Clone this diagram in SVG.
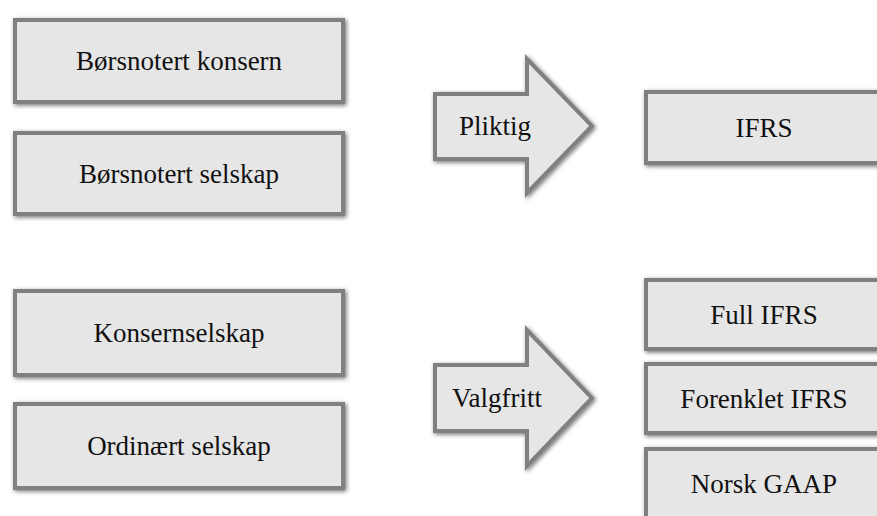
<svg xmlns="http://www.w3.org/2000/svg" width="877" height="516" viewBox="0 0 877 516">
<defs>
<filter id="sh" x="-10%" y="-20%" width="120%" height="140%">
<feDropShadow dx="1.5" dy="1.5" stdDeviation="2" flood-color="#000" flood-opacity="0.55"/>
</filter>
<style>
.box{fill:#e6e6e6;stroke:#808080;stroke-width:4;filter:url(#sh)}
text{font-family:'Liberation Serif','DejaVu Serif',serif;font-size:27px;fill:#111}
.t{text-anchor:middle}
</style>
</defs>
<rect width="877" height="516" fill="#fff"/>
<g id="n1"><rect class="box" x="15" y="20" width="328" height="82"/><text class="t" x="179" y="70" font-family="Liberation Serif, serif">Børsnotert konsern</text></g>
<g id="n2"><rect class="box" x="15" y="133" width="328" height="81"/><text class="t" x="179" y="183" font-family="Liberation Serif, serif">Børsnotert selskap</text></g>
<g id="n3"><rect class="box" x="15" y="291" width="328" height="84"/><text class="t" x="179" y="342" font-family="Liberation Serif, serif">Konsernselskap</text></g>
<g id="n4"><rect class="box" x="15" y="404" width="328" height="84"/><text class="t" x="179" y="455" font-family="Liberation Serif, serif">Ordinært selskap</text></g>
<g id="n5"><rect class="box" x="646" y="92" width="240" height="71"/><text class="t" x="764" y="137" font-family="Liberation Serif, serif">IFRS</text></g>
<g id="n6"><rect class="box" x="646" y="280" width="240" height="69"/><text class="t" x="764" y="324" font-family="Liberation Serif, serif">Full IFRS</text></g>
<g id="n7"><rect class="box" x="646" y="364" width="240" height="69"/><text class="t" x="764" y="408" font-family="Liberation Serif, serif">Forenklet IFRS</text></g>
<g id="n8"><rect class="box" x="646" y="449" width="240" height="75"/><text class="t" x="764" y="493" font-family="Liberation Serif, serif">Norsk GAAP</text></g>
<g id="connectors">
<g id="arrow1"><polygon class="box" points="435,94 527,94 527,59 592,126 527,193 527,159 435,159"/><text x="459" y="135" font-family="Liberation Serif, serif">Pliktig</text></g>
<g id="arrow2"><polygon class="box" points="435,365 527,365 527,330 592,398 527,466 527,431 435,431"/><text x="452" y="407" font-family="Liberation Serif, serif">Valgfritt</text></g>
</g>
</svg>
